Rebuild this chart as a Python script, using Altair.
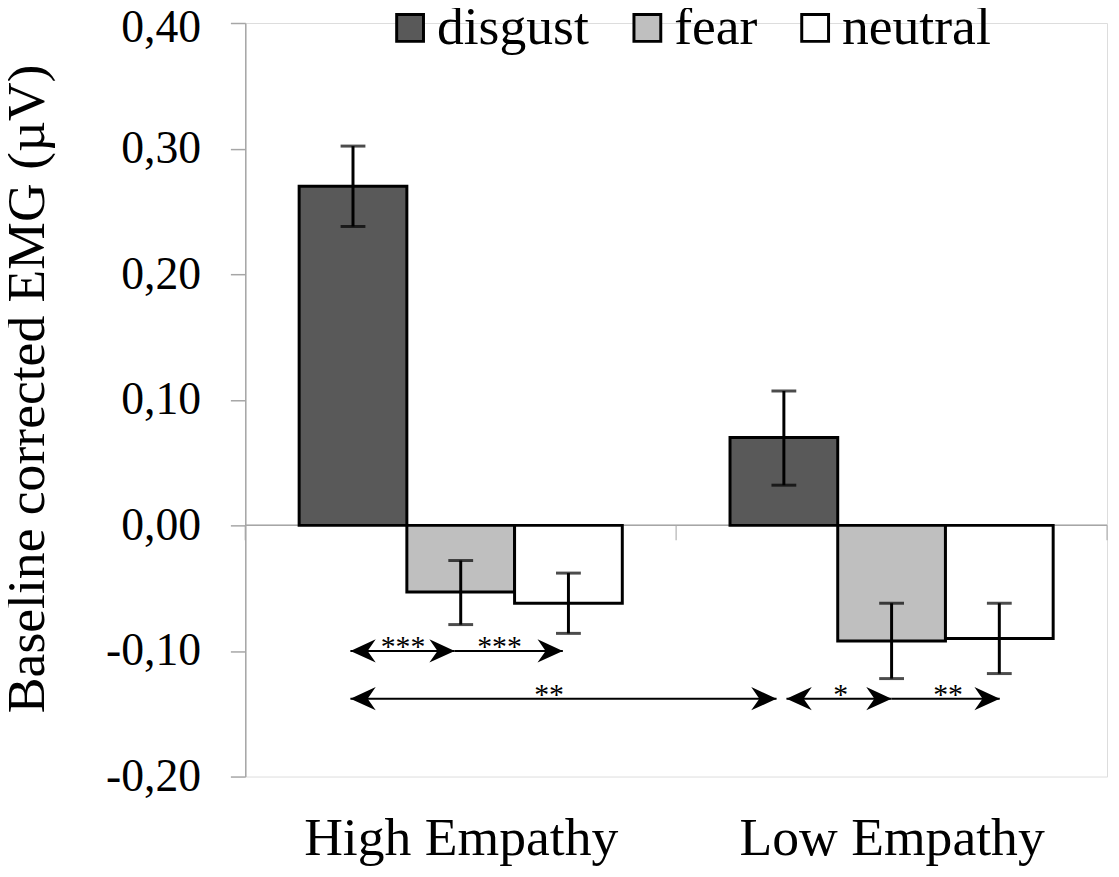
import altair as alt
import pandas as pd

# ---------------- data ----------------
groups = ["High Empathy", "Low Empathy"]
emotions = ["disgust", "fear", "neutral"]

bar_group = ["High Empathy", "High Empathy", "High Empathy",
             "Low Empathy", "Low Empathy", "Low Empathy"]
bar_emotion = ["disgust", "fear", "neutral", "disgust", "fear", "neutral"]
bar_mean = [0.270, -0.053, -0.062, 0.070, -0.092, -0.090]
err_low = [0.238, -0.079, -0.086, 0.032, -0.122, -0.118]
err_high = [0.302, -0.028, -0.038, 0.107, -0.062, -0.062]

y_ticks = [-0.2, -0.1, 0.0, 0.1, 0.2, 0.3, 0.4]

# significance arrows (x in category units: group i spans [i, i+1])
arrow_start = [0.244, 0.486, 0.244, 1.256, 1.500]
arrow_end = [0.486, 0.737, 1.233, 1.500, 1.751]
arrow_y = [-0.100, -0.100, -0.138, -0.138, -0.138]
arrow_left_head = [True, False, True, True, False]
sig_label = ["***", "***", "**", "*", "**"]
sig_x = [0.366, 0.590, 0.705, 1.382, 1.631]

# ---------------- tables ----------------
OUTER = 0.125
BAND = 0.25
bars = pd.DataFrame({
    "group": bar_group, "emotion": bar_emotion, "mean": bar_mean,
    "lo": err_low, "hi": err_high,
})
bars["gi"] = bars["group"].map({g: i for i, g in enumerate(groups)})
bars["ei"] = bars["emotion"].map({e: i for i, e in enumerate(emotions)})
bars["x"] = bars["gi"] + OUTER + BAND * bars["ei"]
bars["x2"] = bars["x"] + BAND
bars["xc"] = bars["x"] + BAND / 2

arrows = pd.DataFrame({"x": arrow_start, "x2": arrow_end, "y": arrow_y})
heads = []
for s, e, y, lh in zip(arrow_start, arrow_end, arrow_y, arrow_left_head):
    heads.append({"x": e, "y": y, "angle": 0})
    if lh:
        heads.append({"x": s, "y": y, "angle": 180})
heads = pd.DataFrame(heads)
labels = pd.DataFrame({"x": sig_x, "y": arrow_y, "label": sig_label})
boundaries = pd.DataFrame({"x": [float(i) for i in range(len(groups) + 1)]})

FONT = "Liberation Serif"
GRAY = "#a6a6a6"

xscale = alt.Scale(domain=[0, len(groups)], nice=False, zero=False)
yscale = alt.Scale(domain=[-0.2, 0.4], nice=False, zero=False)

label_expr = " : ".join(
    [f"datum.value < {i + 1} ? '{g}'" for i, g in enumerate(groups[:-1])]
    + [f"'{groups[-1]}'"]
)

x_axis = alt.Axis(values=[i + 0.5 for i in range(len(groups))], labelExpr=label_expr,
                  domain=False, ticks=False, grid=False, title=None,
                  labelFontSize=54, labelFont=FONT, labelColor="black",
                  labelPadding=36, labelFlush=False, labelLimit=600)
y_axis = alt.Axis(values=y_ticks,
                  labelExpr="(datum.value < -0.0001 ? '-' : '') + replace(format(abs(datum.value), '.2f'), '.', ',')",
                  grid=False, domainColor=GRAY, tickColor=GRAY, tickSize=15,
                  domainWidth=1.5, tickWidth=1.5,
                  labelFontSize=46, labelFont=FONT, labelColor="black", labelPadding=30,
                  labelFlush=False,
                  labelOffset=alt.condition("datum.value > 0.35", alt.value(5), alt.value(0)),
                  title="Baseline corrected EMG (µV)", titleFontSize=54, titleFont=FONT,
                  titleFontWeight="normal", titleColor="black",
                  titleX=-219, titleY=368, titleAngle=270, titleAlign="center",
                  titleBaseline="middle")

base = alt.Chart(bars)

zero_line = alt.Chart(boundaries).mark_rule(color=GRAY, strokeWidth=1.5).encode(
    y=alt.datum(0, scale=yscale)
)
zero_ticks = alt.Chart(boundaries).mark_tick(color=GRAY, thickness=1.5, size=15,
                                             orient="vertical", yOffset=7.5).encode(
    x=alt.X("x:Q", scale=xscale, axis=x_axis),
    y=alt.datum(0, scale=yscale),
)

bar_layer = base.mark_bar(stroke="black", strokeWidth=3, strokeJoin="miter").encode(
    x=alt.X("x:Q", scale=xscale, axis=x_axis),
    x2="x2:Q",
    y=alt.Y("mean:Q", scale=yscale, axis=y_axis),
    y2=alt.datum(0),
    fill=alt.Fill("emotion:N",
                  scale=alt.Scale(domain=emotions, range=["#595959", "#bfbfbf", "#ffffff"]),
                  legend=alt.Legend(orient="none", legendX=139, legendY=-22,
                                    direction="horizontal", title=None,
                                    symbolType="square", symbolSize=729,
                                    symbolStrokeColor="black", symbolStrokeWidth=3,
                                    labelFontSize=54, labelFont=FONT, labelColor="black",
                                    labelOffset=0, columnPadding=31, labelLimit=400,
                                    padding=0)),
)

err_rule = base.mark_rule(color="black", strokeWidth=3).encode(
    x="xc:Q", y="lo:Q", y2="hi:Q"
)
cap_lo = base.mark_tick(color="black", thickness=3, size=25, orient="horizontal").encode(
    x="xc:Q", y="lo:Q"
)
cap_hi = base.mark_tick(color="black", thickness=3, size=25, orient="horizontal").encode(
    x="xc:Q", y="hi:Q"
)

arrow_lines = alt.Chart(arrows).mark_rule(color="black", strokeWidth=2).encode(
    x="x:Q", x2="x2:Q", y="y:Q"
)
arrow_heads = alt.Chart(heads).mark_point(
    shape="M0,0 L-1,-0.46 L-0.68,0 L-1,0.46 Z", filled=True, color="black",
    size=2600, opacity=1, strokeWidth=0
).encode(x="x:Q", y="y:Q", angle=alt.Angle("angle:Q", scale=None))

sig_text = alt.Chart(labels).mark_text(fontSize=30, font=FONT, fill="black",
                                        baseline="alphabetic", dy=5).encode(
    x="x:Q", y="y:Q", text="label:N"
)

chart = alt.layer(
    zero_line, zero_ticks, bar_layer, err_rule, cap_lo, cap_hi,
    arrow_lines, arrow_heads, sig_text
).properties(
    width=868, height=759,
    autosize=alt.AutoSizeParams(type="none"),
    padding={"left": 239, "top": 12, "right": 4, "bottom": 90},
).configure_view(stroke=None).configure(background="white")

chart.save("out.html", embed_options={"renderer": "svg", "actions": False})
